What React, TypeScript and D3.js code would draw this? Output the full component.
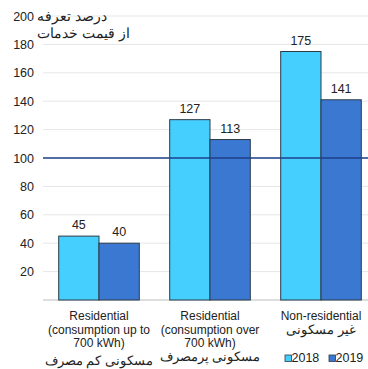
import React from "react";
import * as d3 from "d3";

// Tariff as a percentage of the cost of service, by customer group
const categories = ["res-low", "res-high", "non-res"];
const years = ["2018", "2019"];
const values2018 = [45, 127, 175];
const values2019 = [40, 113, 141];
const yTicks = [20, 40, 60, 80, 100, 120, 140, 160, 180, 200];
const englishLabels = [
  ["Residential", "(consumption up to", "700 kWh)"],
  ["Residential", "(consumption over", "700 kWh)"],
  ["Non-residential"],
];
const persianLabels = ["مسکونی کم مصرف", "مسکونی پرمصرف", "غیر مسکونی"];
const titleLines = ["درصد تعرفه", "از قیمت خدمات"];
const referenceLevel = 100;

const W = 368;
const H = 369;
const colors = ["#45cfff", "#3b78d2"];
const font = "'Liberation Sans', Arial, sans-serif";

export default function App() {
  const y = d3.scaleLinear().domain([0, 200]).range([300, 16]);
  const x = d3
    .scaleBand<string>()
    .domain(categories)
    .range([43.5, 376.5])
    .paddingInner(0.274)
    .paddingOuter(0.137);
  const xs = d3.scaleBand<string>().domain(years).range([0, x.bandwidth()]);
  const series = [values2018, values2019];
  const left = 43;
  const right = W;

  const persianY = [365, 361, 334];

  return (
    <svg
      width={W}
      height={H}
      style={{ position: "absolute", left: 0, top: 0, background: "#fff" }}
      fontFamily={font}
    >
      {/* grid */}
      {yTicks.map((t) => (
        <line key={t} x1={left} x2={right} y1={y(t)} y2={y(t)} stroke="#e6e6e6" strokeWidth={1} />
      ))}
      <line x1={left} x2={right} y1={y(0)} y2={y(0)} stroke="#bdbdbd" strokeWidth={1.2} />

      {/* tick labels */}
      {yTicks.map((t) => (
        <text key={t} x={34} y={y(t) + 4.5} textAnchor="end" fontSize={12.5} fill="#222">
          {t}
        </text>
      ))}

      {/* title */}
      {titleLines.map((s, i) => (
        <text key={i} x={37} y={21 + i * 17} fontSize={14} fill="#222">
          {s}
        </text>
      ))}

      {/* bars */}
      {categories.map((c, ci) =>
        years.map((yr, si) => {
          const v = series[si][ci];
          const bx = (x(c) as number) + (xs(yr) as number);
          return (
            <g key={c + yr}>
              <rect
                x={bx}
                y={y(v)}
                width={xs.bandwidth()}
                height={y(0) - y(v)}
                fill={colors[si]}
                stroke="#2c3a48"
                strokeWidth={1}
              />
              <text
                x={bx + xs.bandwidth() / 2}
                y={y(v) - 7}
                textAnchor="middle"
                fontSize={12.5}
                fill="#222"
              >
                {v}
              </text>
            </g>
          );
        })
      )}

      {/* reference line at 100% */}
      <line
        x1={left}
        x2={right}
        y1={y(referenceLevel)}
        y2={y(referenceLevel)}
        stroke="#1f3f8a"
        strokeWidth={1.3}
      />

      {/* category labels */}
      {categories.map((c, ci) => {
        const cx = (x(c) as number) + x.bandwidth() / 2;
        return (
          <g key={c}>
            {englishLabels[ci].map((s, li) => (
              <text key={li} x={cx} y={320 + li * 13.5} textAnchor="middle" fontSize={12} fill="#222">
                {s}
              </text>
            ))}
            <text x={cx} y={persianY[ci]} textAnchor="middle" fontSize={13} fill="#222">
              {persianLabels[ci]}
            </text>
          </g>
        );
      })}

      {/* legend */}
      {years.map((yr, i) => {
        const lx = 285 + i * 44;
        return (
          <g key={yr}>
            <rect x={lx} y={355} width={6.5} height={6.5} fill={colors[i]} stroke="#2c3a48" strokeWidth={0.8} />
            <text x={lx + 6.5} y={362} fontSize={12.5} fill="#222">
              {yr}
            </text>
          </g>
        );
      })}
    </svg>
  );
}
